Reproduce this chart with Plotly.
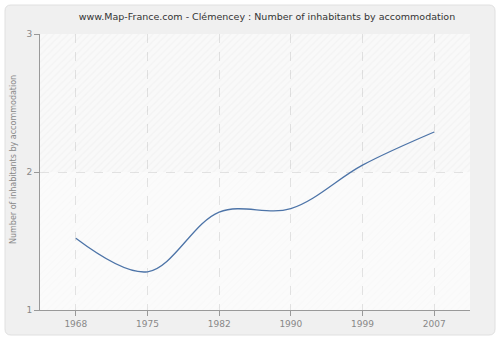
import plotly.graph_objects as go

years = ["1968", "1975", "1982", "1990", "1999", "2007"]
inhabitants = [1.52, 1.277, 1.71, 1.735, 2.05, 2.29]
y_ticks = [1, 2, 3]

title = "www.Map-France.com - Clémencey : Number of inhabitants by accommodation"
y_title = "Number of inhabitants by accommodation"

# plot-area geometry in pixels (used for the outer panel path)
W, H = 500, 340
L, R, T, B = 40, 30, 34, 30
pw, ph = W - L - R, H - T - B


def px(x):
    return (x - L) / pw


def py(y):
    return (H - B - y) / ph


fig = go.Figure()

# hatched background bands (on a hidden numeric axis, underneath the curve)
fig.add_trace(go.Bar(
    x=[0.5], y=[1], base=[2], width=[1], xaxis="x", yaxis="y",
    marker=dict(color="rgba(0,0,0,0)", line=dict(width=0),
                pattern=dict(shape="/", size=5, solidity=0.25,
                             fgcolor="rgba(0,0,0,0.045)", bgcolor="rgba(0,0,0,0.008)")),
    hoverinfo="skip", showlegend=False,
))
fig.add_trace(go.Bar(
    x=[0.5], y=[1], base=[1], width=[1], xaxis="x", yaxis="y",
    marker=dict(color="rgba(0,0,0,0)", line=dict(width=0),
                pattern=dict(shape="/", size=5, solidity=0.2,
                             fgcolor="rgba(0,0,0,0.022)", bgcolor="rgba(0,0,0,0)")),
    hoverinfo="skip", showlegend=False,
))

fig.add_trace(go.Scatter(
    x=years, y=inhabitants, mode="lines", xaxis="x2", yaxis="y",
    line=dict(color="#4d74a8", width=1.3, shape="spline", smoothing=1.0),
    showlegend=False,
))

# rounded outer panel
x0, y0, x1, y1 = px(5), py(5), px(495), py(335)
rx, ry = 6 / pw, 6 / ph
panel = (f"M {x0 + rx},{y1} L {x1 - rx},{y1} Q {x1},{y1} {x1},{y1 + ry} "
         f"L {x1},{y0 - ry} Q {x1},{y0} {x1 - rx},{y0} L {x0 + rx},{y0} "
         f"Q {x0},{y0} {x0},{y0 - ry} L {x0},{y1 + ry} Q {x0},{y1} {x0 + rx},{y1} Z")

fig.update_layout(
    width=W, height=H,
    margin=dict(l=L, r=R, t=T, b=B),
    paper_bgcolor="#ffffff",
    plot_bgcolor="#fbfbfb",
    barmode="overlay",
    shapes=[
        dict(type="path", path=panel, xref="paper", yref="paper",
             fillcolor="#f0f0f0", line=dict(color="#e0e0e0", width=1), layer="below"),
        dict(type="rect", x0=0, x1=1, y0=0, y1=1, xref="paper", yref="paper",
             fillcolor="#fbfbfb", line=dict(width=0), layer="below"),
    ],
    annotations=[dict(text=y_title, textangle=-90, x=px(13), y=py(160),
                      xref="paper", yref="paper", showarrow=False,
                      xanchor="center", yanchor="middle",
                      font=dict(family="DejaVu Sans", size=8, color="#888888"))],
    title=dict(text=title, x=267 / W, xanchor="center", y=1 - 17 / H, yanchor="middle",
               font=dict(family="DejaVu Sans", size=9.5, color="#333333")),
    xaxis=dict(range=[0, 1], visible=False, showgrid=False, zeroline=False),
    xaxis2=dict(
        overlaying="x", type="category", range=[-0.5, 5.5], side="bottom",
        showline=True, linecolor="#999999", linewidth=1,
        ticks="outside", ticklen=5, tickcolor="#999999",
        showgrid=True, gridcolor="#e2e2e2", griddash="dash", gridwidth=1,
        tickfont=dict(family="DejaVu Sans", size=9, color="#888888"),
        zeroline=False,
    ),
    yaxis=dict(
        range=[1, 3], tickvals=y_ticks,
        showline=True, linecolor="#999999", linewidth=1,
        ticks="outside", ticklen=5, tickcolor="#999999",
        showgrid=True, gridcolor="#e2e2e2", griddash="dash", gridwidth=1,
        tickfont=dict(family="DejaVu Sans", size=9, color="#888888"),
        zeroline=False,
    ),
)

fig.write_html("out.html")
